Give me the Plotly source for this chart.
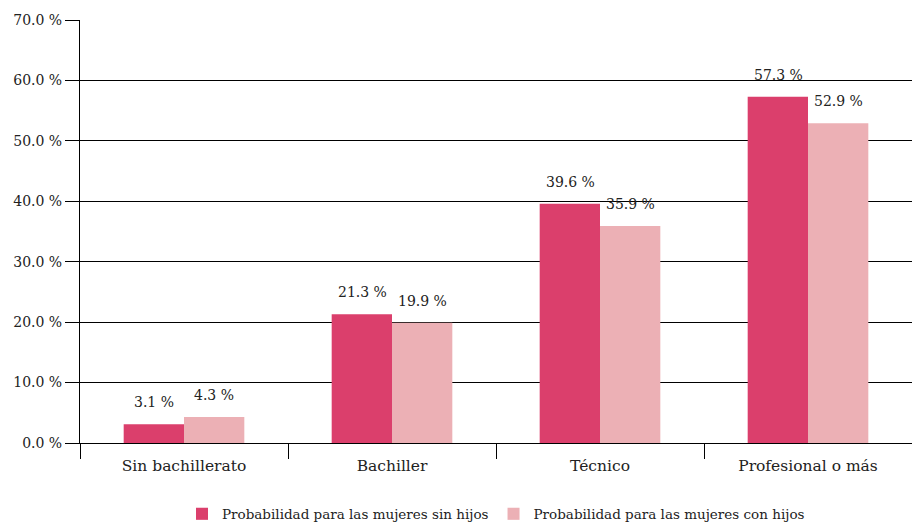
import plotly.graph_objects as go

categories = ["Sin bachillerato", "Bachiller", "Técnico", "Profesional o más"]
sin_hijos = [3.1, 21.3, 39.6, 57.3]
con_hijos = [4.3, 19.9, 35.9, 52.9]
series_names = ["Probabilidad para las mujeres sin hijos",
                "Probabilidad para las mujeres con hijos"]
tick_vals = [0, 10, 20, 30, 40, 50, 60, 70]
tick_text = [f"{v:.1f} %" for v in tick_vals]

FONT = "DejaVu Serif, Liberation Serif, serif"
C_SIN = "#db3f6c"
C_CON = "#ecb0b5"

fig = go.Figure()
fig.add_trace(go.Bar(x=categories, y=sin_hijos, name=series_names[0],
                     marker=dict(color=C_SIN, line=dict(width=0))))
fig.add_trace(go.Bar(x=categories, y=con_hijos, name=series_names[1],
                     marker=dict(color=C_CON, line=dict(width=0))))

# value labels above each bar
for vals, shift in ((sin_hijos, -30), (con_hijos, 30)):
    for cat, v in zip(categories, vals):
        fig.add_annotation(x=cat, y=v, text=f"{v:.1f} %", showarrow=False,
                           xshift=shift, yshift=22, yanchor="middle",
                           font=dict(family=FONT, size=14, color="#222"))

fig.update_layout(
    width=912, height=523,
    margin=dict(l=80, r=0, t=20, b=80, autoexpand=False),
    paper_bgcolor="white", plot_bgcolor="white",
    barmode="group", bargap=0.42, bargroupgap=0,
    font=dict(family=FONT, size=15, color="#222"),
    showlegend=True,
    legend=dict(orientation="h", x=0.5, xanchor="center", y=-0.168, yanchor="middle",
                font=dict(family=FONT, size=13.5, color="#222"),
                traceorder="normal"),
    xaxis=dict(showline=True, linecolor="black", linewidth=1, automargin=False,
               ticks="outside", tickson="boundaries", ticklen=15,
               ticklabelstandoff=8,
               tickcolor="black", tickfont=dict(family=FONT, size=15.5, color="#222"),
               showgrid=False),
    yaxis=dict(range=[0, 70], tickvals=tick_vals, ticktext=tick_text, automargin=False,
               showgrid=True, gridcolor="black", gridwidth=1,
               showline=True, linecolor="black", linewidth=1,
               ticks="outside", ticklen=14, tickcolor="black",
               tickfont=dict(family=FONT, size=14, color="#222"),
               zeroline=True, zerolinecolor="black", zerolinewidth=1),
)

fig.write_html("out.html")
